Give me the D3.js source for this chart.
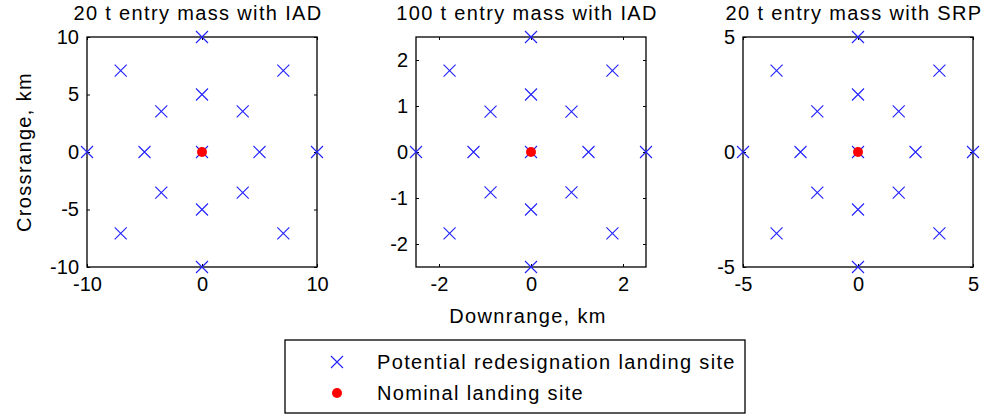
<!DOCTYPE html>
<html>
<head>
<meta charset="utf-8">
<script src="https://cdn.jsdelivr.net/npm/d3@7"></script>
<style>
  html, body { margin: 0; padding: 0; background: #fff; }
  svg { display: block; font-family: "Liberation Sans", Arial, sans-serif; }
  .lbl { font-size: 20px; letter-spacing: 1.35px; fill: #000; }
</style>
</head>
<body>
<svg id="chart" width="989" height="419"></svg>
<script>
// Panel titles and axis extents (km)
const titles = ["20 t entry mass with IAD", "100 t entry mass with IAD", "20 t entry mass with SRP"];
const limits = [10, 2.5, 5];
const xTicks = [[-10, 0, 10], [-2, 0, 2], [-5, 0, 5]];
const yTicks = [[-10, -5, 0, 5, 10], [-2, -1, 0, 1, 2], [-5, 0, 5]];

// Potential redesignation landing sites: downrange / crossrange, km
const down20IAD  = [0, 5, 3.54, 0, -3.54, -5, -3.54, 0, 3.54, 10, 7.07, 0, -7.07, -10, -7.07, 0, 7.07];
const cross20IAD = [0, 0, 3.54, 5, 3.54, 0, -3.54, -5, -3.54, 0, 7.07, 10, 7.07, 0, -7.07, -10, -7.07];
const down100IAD  = [0, 1.25, 0.88, 0, -0.88, -1.25, -0.88, 0, 0.88, 2.5, 1.77, 0, -1.77, -2.5, -1.77, 0, 1.77];
const cross100IAD = [0, 0, 0.88, 1.25, 0.88, 0, -0.88, -1.25, -0.88, 0, 1.77, 2.5, 1.77, 0, -1.77, -2.5, -1.77];
const down20SRP  = [0, 2.5, 1.77, 0, -1.77, -2.5, -1.77, 0, 1.77, 5, 3.54, 0, -3.54, -5, -3.54, 0, 3.54];
const cross20SRP = [0, 0, 1.77, 2.5, 1.77, 0, -1.77, -2.5, -1.77, 0, 3.54, 5, 3.54, 0, -3.54, -5, -3.54];

// Nominal landing site per panel
const nominalDown  = [0, 0, 0];
const nominalCross = [0, 0, 0];

const siteDown  = [down20IAD, down100IAD, down20SRP];
const siteCross = [cross20IAD, cross100IAD, cross20SRP];

const legendLabels = ["Potential redesignation landing site", "Nominal landing site"];

const svg = d3.select("#chart");
const panelLeft = [87, 416, 743];
const plotTop = 37, size = 230;
const tickLen = 3;
const markerHalf = 6;
const siteColor = "#2020ff";
const nominalColor = "#ff0000";
const plainNum = d => String(d);

function xMark(g, cx, cy) {
  g.append("path")
    .attr("d", `M${cx - markerHalf},${cy - markerHalf}L${cx + markerHalf},${cy + markerHalf}M${cx - markerHalf},${cy + markerHalf}L${cx + markerHalf},${cy - markerHalf}`)
    .attr("stroke", siteColor)
    .attr("stroke-width", 1.1)
    .attr("fill", "none");
}

titles.forEach((title, i) => {
  const L = limits[i];
  const x = d3.scaleLinear().domain([-L, L]).range([panelLeft[i], panelLeft[i] + size]);
  const y = d3.scaleLinear().domain([-L, L]).range([plotTop + size, plotTop]);
  const g = svg.append("g");

  // bottom axis with inward ticks
  const xAxis = g.append("g").attr("transform", `translate(0,${plotTop + size})`)
    .call(d3.axisBottom(x).tickValues(xTicks[i]).tickSize(-tickLen).tickPadding(10).tickFormat(plainNum));
  // top mirror ticks
  g.append("g").attr("transform", `translate(0,${plotTop})`)
    .call(d3.axisTop(x).tickValues(xTicks[i]).tickSize(-tickLen).tickFormat(""));
  // left axis
  g.append("g").attr("transform", `translate(${panelLeft[i]},0)`)
    .call(d3.axisLeft(y).tickValues(yTicks[i]).tickSize(-tickLen).tickPadding(8).tickFormat(plainNum));
  // right mirror ticks
  g.append("g").attr("transform", `translate(${panelLeft[i] + size},0)`)
    .call(d3.axisRight(y).tickValues(yTicks[i]).tickSize(-tickLen).tickFormat(""));

  g.selectAll(".domain").remove();
  g.selectAll(".tick line").attr("stroke", "#000").attr("stroke-width", 1);
  g.selectAll(".tick text").attr("fill", "#000").style("font-size", "20px")
    .style("font-family", "'Liberation Sans', Arial, sans-serif");
  xAxis.selectAll(".tick text").attr("dy", "0.71em");

  // plot box
  g.append("rect")
    .attr("x", panelLeft[i]).attr("y", plotTop)
    .attr("width", size).attr("height", size)
    .attr("fill", "none").attr("stroke", "#000").attr("stroke-width", 1.3);

  // title
  g.append("text")
    .attr("class", "lbl")
    .attr("x", panelLeft[i] + size / 2 - 4).attr("y", 20)
    .attr("text-anchor", "middle")
    .text(title);

  // redesignation sites
  siteDown[i].forEach((d, k) => xMark(g, x(d), y(siteCross[i][k])));

  // nominal site
  g.append("circle")
    .attr("cx", x(nominalDown[i])).attr("cy", y(nominalCross[i]))
    .attr("r", 5).attr("fill", nominalColor);
});

// axis labels
svg.append("text")
  .attr("class", "lbl")
  .attr("transform", "translate(31,152) rotate(-90)")
  .attr("text-anchor", "middle")
  .text("Crossrange, km");

svg.append("text")
  .attr("class", "lbl")
  .attr("x", 528).attr("y", 323)
  .attr("text-anchor", "middle")
  .text("Downrange, km");

// legend
const lg = svg.append("g");
lg.append("rect")
  .attr("x", 285).attr("y", 340).attr("width", 460).attr("height", 73)
  .attr("fill", "#fff").attr("stroke", "#000").attr("stroke-width", 1.3);
xMark(lg, 337, 362);
lg.append("circle").attr("cx", 337).attr("cy", 393).attr("r", 5).attr("fill", nominalColor);
lg.selectAll("text.leg").data(legendLabels).join("text")
  .attr("class", "leg lbl")
  .attr("x", 377)
  .attr("y", (d, k) => 369 + k * 31)
  .text(d => d);
</script>
</body>
</html>
